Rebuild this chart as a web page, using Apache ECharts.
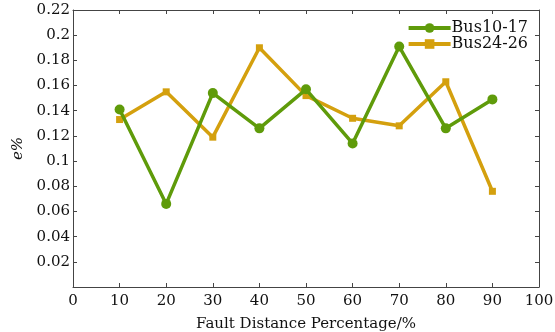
<!DOCTYPE html>
<html><head><meta charset="utf-8">
<script src="https://cdn.jsdelivr.net/npm/echarts@6/dist/echarts.min.js"></script>
<style>html,body{margin:0;padding:0;background:#fff}#c{width:555px;height:332px}</style>
</head><body><div id="c"></div>
<script>
const xValues = [10, 20, 30, 40, 50, 60, 70, 80, 90];
const bus1017 = [0.141, 0.066, 0.154, 0.126, 0.157, 0.114, 0.191, 0.126, 0.149];
const bus2426 = [0.133, 0.155, 0.119, 0.190, 0.152, 0.134, 0.128, 0.163, 0.076];
const seriesNames = ['Bus10-17', 'Bus24-26'];
const xTitle = 'Fault Distance Percentage/%';
const yTitle = 'e%';

const font = 'DejaVu Serif';
const axisCommon = {
  axisLine: {show: true, onZero: false, lineStyle: {color: '#444', width: 1}},
  axisTick: {show: true, inside: true, length: 4, lineStyle: {color: '#444'}},
  splitLine: {show: false}
};
const chart = echarts.init(document.getElementById('c'));
chart.setOption({
  animation: false,
  grid: {left: 73, right: 16, top: 10, bottom: 45, outerBoundsMode: 'none', containLabel: false},
  legend: {
    top: 15, right: 22, orient: 'vertical', itemGap: 0, itemWidth: 42, itemHeight: 12,
    lineStyle: {width: 4},
    textStyle: {fontFamily: font, fontSize: 16, color: '#111', padding: [0, 0, 0, -4]},
    data: seriesNames
  },
  xAxis: [
    Object.assign({type: 'value', min: 0, max: 100, interval: 10,
      name: xTitle, nameLocation: 'middle', nameGap: 30,
      nameTextStyle: {fontFamily: font, fontSize: 15, color: '#111'},
      axisLabel: {fontFamily: font, fontSize: 15, color: '#111', margin: 7}}, axisCommon),
    Object.assign({type: 'value', position: 'top', min: 0, max: 100, interval: 10,
      axisLabel: {show: false}}, axisCommon)
  ],
  yAxis: [
    Object.assign({type: 'value', min: 0, max: 0.22, interval: 0.02,
      name: yTitle, nameLocation: 'middle', nameGap: 36, nameRotate: 90,
      nameTextStyle: {fontFamily: font, fontSize: 15, fontStyle: 'italic', color: '#111'},
      axisLabel: {fontFamily: font, fontSize: 15, color: '#111', margin: 3,
        formatter: v => v === 0 ? '' : String(+v.toFixed(2))}}, axisCommon),
    Object.assign({type: 'value', position: 'right', min: 0, max: 0.22, interval: 0.02,
      axisLabel: {show: false}}, axisCommon)
  ],
  series: [
    {name: seriesNames[0], type: 'line', data: xValues.map((x, i) => [x, bus1017[i]]),
     symbol: 'circle', symbolSize: 10, lineStyle: {width: 3.5, color: '#5f9b0a'},
     itemStyle: {color: '#5f9b0a'}, z: 3},
    {name: seriesNames[1], type: 'line', data: xValues.map((x, i) => [x, bus2426[i]]),
     symbol: 'rect', symbolSize: 7, lineStyle: {width: 3.5, color: '#d4a00e'},
     itemStyle: {color: '#d4a00e'}, z: 2}
  ]
});
</script></body></html>
